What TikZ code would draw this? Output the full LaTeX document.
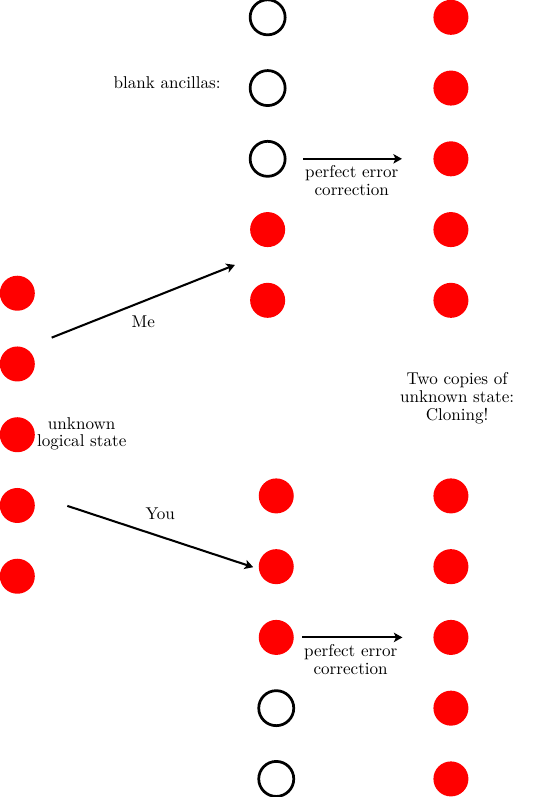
\documentclass[tikz,border=0pt]{standalone}
\usetikzlibrary{arrows.meta}
\tikzset{
  qubit/.style={circle, fill=red, minimum size=0.72cm, inner sep=0pt},
  ancilla/.style={circle, draw, ultra thick, minimum size=0.72cm, inner sep=0pt},
  op/.style={very thick, -{Stealth[length=5pt,width=5.5pt,inset=1.2pt]}},
  lbl/.style={align=center, font=\linespread{0.87}\selectfont},
}
\begin{document}
\begin{tikzpicture}
    \useasboundingbox (0,0) rectangle (11.10,-16.39);
    %% unknown logical state
    \foreach \i in {1,...,5}
        \node[qubit] (l\i) at (0.356,{-6.030-1.455*(\i-1)}) {};
    \node[lbl] (unk) at (1.68,-8.92) {unknown\\logical state};
    %% Me: ancillas on top
    \foreach \i/\s in {1/ancilla,2/ancilla,3/ancilla,4/qubit,5/qubit}
        \node[\s] (m\i) at (5.504,{-0.356-1.455*(\i-1)}) {};
    \node[anchor=east] (anc) at (4.66,-1.69) {blank ancillas:};
    %% You: ancillas at the bottom
    \foreach \i/\s in {1/qubit,2/qubit,3/qubit,4/ancilla,5/ancilla}
        \node[\s] (n\i) at (5.681,{-10.198-1.455*(\i-1)}) {};
    %% after correction
    \foreach \i in {1,...,5} {
        \node[qubit] (r\i) at (9.273,{-0.356-1.455*(\i-1)}) {};
        \node[qubit] (s\i) at (9.273,{-10.198-1.455*(\i-1)}) {};
    }
    \node[lbl] (clone) at (9.40,-8.19) {Two copies of\\unknown state:\\Cloning!};
    %% splitting
    \coordinate (meA) at (1.063,-6.943);
    \coordinate (meB) at (4.832,-5.448);
    \coordinate (youA) at (1.384,-10.403);
    \coordinate (youB) at (5.208,-11.664);
    \draw[op] (meA) -- (meB) node[midway,below=0.16cm] {Me};
    \draw[op] (youA) -- (youB) node[midway,above=0.21cm] {You};
    %% error correction
    \draw[op,shorten <=0.34cm,shorten >=0.64cm] (m3) -- (r3)
        node[pos=0.445,below,lbl] {perfect error\\correction};
    \draw[op,shorten <=0.17cm,shorten >=0.63cm] (n3) -- (s3)
        node[pos=0.407,below,lbl] {perfect error\\correction};
\end{tikzpicture}
\end{document}
